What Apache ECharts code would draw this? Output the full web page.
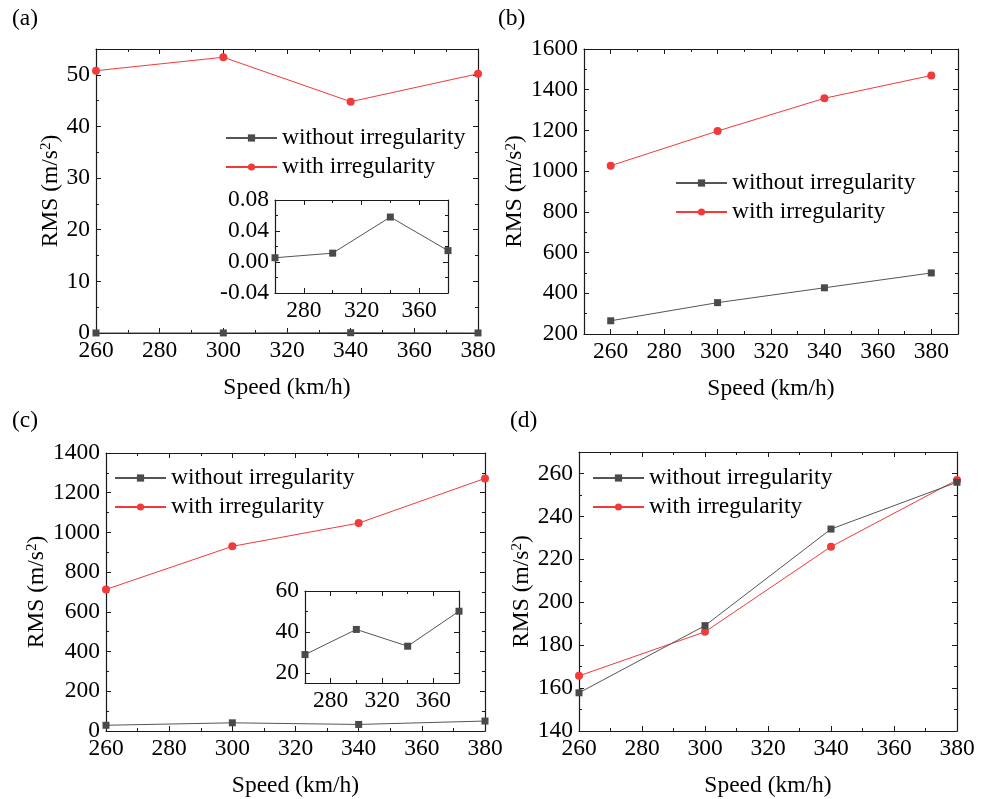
<!DOCTYPE html>
<html>
<head>
<meta charset="utf-8">
<script src="https://cdn.jsdelivr.net/npm/echarts@6/dist/echarts.min.js"></script>
<style>html,body{margin:0;padding:0;background:#fff;}#c{width:989px;height:799px;}</style>
</head>
<body>
<div id="c"></div>
<script>
// ---- data ----
const speeds = [260, 300, 340, 380];
const seriesNames = ['without irregularity', 'with irregularity'];
const aWithout = [0.0055, 0.0114, 0.058, 0.0147];
const aWith = [50.8, 53.4, 44.8, 50.2];
const bWithout = [265, 354, 427, 500];
const bWith = [1027, 1197, 1358, 1470];
const cWithout = [28.9, 41.2, 33.0, 50.1];
const cWith = [713, 930, 1047, 1272];
const dWithout = [157.8, 189.1, 234.1, 255.9];
const dWith = [165.7, 186.2, 225.9, 257.0];

// ---- tick labels ----
const xMajor = [260, 280, 300, 320, 340, 360, 380];
const xMinor = [270, 290, 310, 330, 350, 370];
const xInsetLabels = [280, 320, 360];
const xInsetMinor = [300, 340];
const yAMajor = [0, 10, 20, 30, 40, 50];
const yAMinor = [5, 15, 25, 35, 45];
const yBMajor = [200, 400, 600, 800, 1000, 1200, 1400, 1600];
const yBMinor = [300, 500, 700, 900, 1100, 1300, 1500];
const yCMajor = [0, 200, 400, 600, 800, 1000, 1200, 1400];
const yCMinor = [100, 300, 500, 700, 900, 1100, 1300];
const yDMajor = [140, 160, 180, 200, 220, 240, 260];
const yDMinor = [150, 170, 190, 210, 230, 250];
const yInsetAMajor = [-0.04, 0, 0.04, 0.08];
const yInsetAMinor = [-0.02, 0.02, 0.06];
const yInsetCMajor = [20, 40, 60];
const yInsetCMinor = [30, 50];

const FONT = 'Liberation Serif';
const FS = 23.5;     // tick labels
const FST = 23.5;    // titles / legend
const BLACK = '#4a4a4a';
const RED = '#f23a3a';
const AX = '#1a1a1a';

const grids = [], xAxes = [], yAxes = [], series = [], legends = [];

function addAxes(list, gridIndex, dim, o) {
  const pos = dim === 'x' ? ['bottom', 'top'] : ['left', 'right'];
  let mainIndex = list.length;
  const base = {type: 'value', gridIndex: gridIndex, min: o.min, max: o.max, splitLine: {show: false}};
  list.push(Object.assign({}, base, {
    position: pos[0],
    axisLine: {show: true, onZero: false, lineStyle: {color: AX, width: 1.2}},
    axisTick: {show: true, inside: true, length: 5, customValues: o.major, lineStyle: {color: AX, width: 1}},
    axisLabel: {show: true, customValues: o.labels || o.major, fontFamily: FONT, fontSize: FS, color: '#000', margin: o.margin || 6,
      formatter: o.fmt || (v => String(v))},
    name: o.name || '', nameLocation: 'middle', nameGap: o.nameGap || 30,
    nameTextStyle: {fontFamily: FONT, fontSize: FST, color: '#000',
      rich: {sup: {fontFamily: FONT, fontSize: 15, color: '#000', verticalAlign: 'top', lineHeight: 15, padding: [0, 0, 8, 0]}}}
  }));
  list.push(Object.assign({}, base, {
    position: pos[0],
    axisLine: {show: false, onZero: false},
    axisTick: {show: true, inside: true, length: 3, customValues: o.minor, lineStyle: {color: AX, width: 1}},
    axisLabel: {show: false}
  }));
  list.push(Object.assign({}, base, {
    position: pos[1],
    axisLine: {show: true, onZero: false, lineStyle: {color: AX, width: 1.2}},
    axisTick: {show: true, inside: true, length: 5, customValues: o.major, lineStyle: {color: AX, width: 1}},
    axisLabel: {show: false}
  }));
  list.push(Object.assign({}, base, {
    position: pos[1],
    axisLine: {show: false, onZero: false},
    axisTick: {show: true, inside: true, length: 3, customValues: o.minor, lineStyle: {color: AX, width: 1}},
    axisLabel: {show: false}
  }));
  return mainIndex;
}

const yName = 'RMS (m/s{sup|2})';

function addPanel(g, xo, yo, data, leg) {
  const gi = grids.length;
  grids.push({left: g[0], top: g[1], width: g[2], height: g[3], containLabel: false, show: false});
  const xi = addAxes(xAxes, gi, 'x', xo);
  const yi = addAxes(yAxes, gi, 'y', yo);
  data.forEach((d, k) => {
    if (!d) return;
    series.push({
      type: 'line', name: seriesNames[k], xAxisIndex: xi, yAxisIndex: yi,
      data: speeds.map((s, i) => [s, d[i]]),
      symbol: k === 0 ? 'rect' : 'circle', symbolSize: k === 0 ? 7 : 8,
      lineStyle: {color: k === 0 ? '#555' : RED, width: 1},
      itemStyle: {color: k === 0 ? BLACK : RED},
      clip: true, animation: false, z: k === 0 ? 3 : 2
    });
  });
  if (leg) {
    legends.push({
      show: true, orient: 'vertical', left: leg[0], top: leg[1], padding: 0, itemWidth: 51, itemHeight: 9, itemGap: 5,
      selectedMode: false, data: seriesNames,
      textStyle: {fontFamily: FONT, fontSize: FST, color: '#000'}
    });
  }
}

// (a)
addPanel([96, 49, 382, 284],
  {min: 260, max: 380, major: xMajor, minor: xMinor, name: 'Speed (km/h)', nameGap: 43},
  {min: 0, max: 55, major: yAMajor, minor: yAMinor, name: yName, nameGap: 33},
  [aWithout, aWith], [225, 126]);
// (b)
addPanel([584, 49, 374, 285],
  {min: 250, max: 390, major: xMajor, minor: xMinor, name: 'Speed (km/h)', nameGap: 43},
  {min: 200, max: 1600, major: yBMajor, minor: yBMinor, name: yName, nameGap: 55},
  [bWithout, bWith], [675, 171]);
// (c)
addPanel([106, 453, 379, 280],
  {min: 260, max: 380, major: xMajor, minor: xMinor, name: 'Speed (km/h)', nameGap: 43},
  {min: 0, max: 1400, major: yCMajor, minor: yCMinor, name: yName, nameGap: 57},
  [cWithout, cWith], [114, 466]);
// (d)
addPanel([579, 452, 378, 283],
  {min: 260, max: 380, major: xMajor, minor: xMinor, name: 'Speed (km/h)', nameGap: 43},
  {min: 140, max: 270, major: yDMajor, minor: yDMinor, name: yName, nameGap: 43},
  [dWithout, dWith], [592, 466]);
// inset (a)
addPanel([275, 200, 173, 93],
  {min: 260, max: 380, major: xInsetLabels, minor: xInsetMinor, labels: xInsetLabels},
  {min: -0.04, max: 0.08, major: yInsetAMajor, minor: yInsetAMinor, fmt: v => v.toFixed(2)},
  [aWithout, null], null);
// inset (c)
addPanel([305, 591, 154, 92],
  {min: 260, max: 380, major: xInsetLabels, minor: xInsetMinor, labels: xInsetLabels},
  {min: 15, max: 60, major: yInsetCMajor, minor: yInsetCMinor},
  [cWithout, null], null);

const panelLabels = [['(a)', 12, 7], ['(b)', 498, 7], ['(c)', 12, 409], ['(d)', 510, 409]];

const chart = echarts.init(document.getElementById('c'), null, {renderer: 'canvas'});
chart.setOption({
  animation: false,
  backgroundColor: '#fff',
  grid: grids, xAxis: xAxes, yAxis: yAxes, series: series, legend: legends,
  graphic: panelLabels.map(p => ({type: 'text', left: p[1], top: p[2],
    style: {text: p[0], fontFamily: FONT, fontSize: FST, fill: '#000'}}))
});
</script>
</body>
</html>
